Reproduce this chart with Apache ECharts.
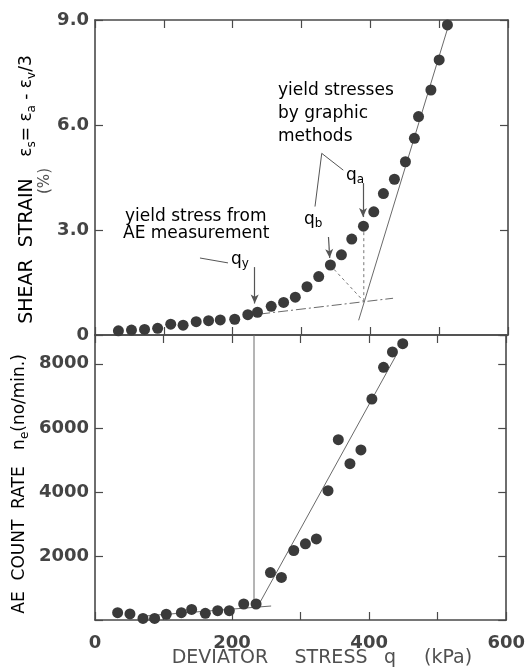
<!DOCTYPE html>
<html>
<head>
<meta charset="utf-8">
<script src="https://cdn.jsdelivr.net/npm/echarts@6/dist/echarts.min.js"></script>
<style>
  html, body { margin: 0; padding: 0; background: #fff; }
  #chart { width: 528px; height: 672px; }
</style>
</head>
<body>
<div id="chart"></div>
<script>
// top panel: shear strain (%) vs deviator stress q (kPa)
const strainQ = [34, 53, 72, 91, 110, 128, 147, 165, 182, 203, 222, 236, 256, 274, 291, 308, 325, 342, 358, 373, 390, 405, 419, 435, 451, 464, 470, 488, 500, 512];
const strainVal = [0.12, 0.14, 0.16, 0.19, 0.31, 0.28, 0.38, 0.41, 0.43, 0.45, 0.58, 0.65, 0.82, 0.93, 1.08, 1.38, 1.67, 2.0, 2.29, 2.74, 3.11, 3.52, 4.04, 4.45, 4.95, 5.62, 6.24, 7.0, 7.86, 8.86];

// bottom panel: AE count rate (no/min) vs deviator stress q (kPa)
const rateQ = [33, 51, 70, 87, 104, 126, 141, 161, 179, 196, 217, 235, 256, 272, 290, 307, 323, 340, 355, 372, 388, 404, 421, 434, 449];
const rateVal = [230, 190, 50, 50, 180, 230, 330, 210, 290, 290, 500, 500, 1480, 1330, 2170, 2380, 2530, 4040, 5630, 4880, 5310, 6900, 7890, 8370, 8630];

// fitted lines and construction lines [q, value]
const strainFitLow = [[240, 0.6], [433, 1.05]];
const strainFitSteep = [[383, 0.42], [516, 9.0]];
const dashA = [[390.5, 3.11], [390.5, 0.95]];
const dashB = [[341.4, 2.0], [391, 0.95]];
const rateFitLow = [[73, 125], [257, 437]];
const rateFitSteep = [[240, 522], [440, 8290]];
const yieldAE = [[232, 8900], [232, 600]];

// annotation arrows and leaders (top panel, data units)
const arrowsTop = [
  [[232, 1.94], [232, 0.9]],
  [[389.4, 4.34], [389.4, 3.37]],
  [[339.2, 2.8], [341, 2.2]]
];
const leadersTop = [
  [[152.5, 2.2], [193.2, 2.06]],
  [[329.4, 5.19], [360.7, 4.71]],
  [[329.4, 5.19], [319.6, 3.67]]
];

const zip = (a, b) => a.map((v, i) => [v, b[i]]);

const chart = echarts.init(document.getElementById('chart'));

const frame = '#4a4a4a';
const tickFont = { color: '#444', fontSize: 18, fontWeight: 'bold', fontFamily: 'DejaVu Sans' };
const txt = '#505050';
const font = 'DejaVu Sans';

function xAx(grid, pos, labels) {
  return {
    type: 'value', gridIndex: grid, position: pos, min: 0, max: 600, interval: 100,
    axisLine: { show: true, onZero: false, lineStyle: { color: frame, width: 1.6 } },
    axisTick: { show: true, inside: true, length: 8, lineStyle: { color: frame, width: 1.2 } },
    splitLine: { show: false },
    axisLabel: labels
      ? Object.assign({ margin: 14, formatter: v => (v % 200 === 0 ? String(v) : '') }, tickFont)
      : { show: false }
  };
}

function yAx(grid, pos, max, interval, fmt) {
  return {
    type: 'value', gridIndex: grid, position: pos, min: 0, max: max, interval: interval,
    axisLine: { show: true, onZero: false, lineStyle: { color: frame, width: 1.6 } },
    axisTick: { show: true, inside: true, length: 8, lineStyle: { color: frame, width: 1.2 } },
    splitLine: { show: false },
    axisLabel: fmt
      ? Object.assign({ margin: 6, showMaxLabel: max % interval === 0, formatter: fmt }, tickFont)
      : { show: false }
  };
}

const fitStyle = { color: '#6a6a6a', width: 1 };
function seg(data, xi, yi, style) {
  return { type: 'line', xAxisIndex: xi, yAxisIndex: yi, data: data, symbol: 'none', lineStyle: style, z: 1 };
}

const richTitle = {
  a: { fontSize: 17, fontFamily: font, color: txt, lineHeight: 21 },
  b: { fontSize: 19, fontFamily: font, color: txt, lineHeight: 21 },
  s: { fontSize: 12, fontFamily: font, color: txt, lineHeight: 11, verticalAlign: 'bottom' }
};
const richNote = {
  a: { fontSize: 17, fontFamily: font, color: txt, lineHeight: 20 },
  s: { fontSize: 12, fontFamily: font, color: txt, lineHeight: 10, verticalAlign: 'bottom' }
};

function note(x, y, text) {
  return { type: 'text', x: x, y: y, style: { text: text, rich: richNote, align: 'left', verticalAlign: 'middle' } };
}
function vtext(x, y, text) {
  return {
    type: 'text', x: x, y: y, rotation: Math.PI / 2,
    style: { text: text, rich: richTitle, align: 'center', verticalAlign: 'middle' }
  };
}
function htext(x, y, text) {
  return { type: 'text', x: x, y: y, style: { text: text, fontSize: 19, fontFamily: font, fill: txt, align: 'center', verticalAlign: 'middle' } };
}

const option = {
  animation: false,
  backgroundColor: '#fff',
  grid: [
    { left: 95, right: 20, top: 20, height: 315 },
    { left: 95, right: 20, top: 335, height: 285 }
  ],
  xAxis: [xAx(0, 'bottom', false), xAx(0, 'top', false), xAx(1, 'bottom', true), xAx(1, 'top', false)],
  yAxis: [
    yAx(0, 'left', 9, 3, v => (v === 0 ? '0' : v.toFixed(1))),
    yAx(0, 'right', 9, 3, null),
    yAx(1, 'left', 8900, 2000, v => (v === 0 ? '' : String(v))),
    yAx(1, 'right', 8900, 2000, null)
  ],
  series: [
    seg(strainFitLow, 0, 0, { color: '#6a6a6a', width: 1, type: [10, 3, 2, 3] }),
    seg(strainFitSteep, 0, 0, fitStyle),
    seg(dashA, 0, 0, { color: '#777', width: 1, type: [3, 3] }),
    seg(dashB, 0, 0, { color: '#777', width: 1, type: [3, 3] }),
    seg(rateFitLow, 2, 2, fitStyle),
    seg(rateFitSteep, 2, 2, fitStyle),
    seg(yieldAE, 2, 2, { color: '#6a6a6a', width: 1 }),
    {
      type: 'line', xAxisIndex: 0, yAxisIndex: 0, data: [], symbol: 'none',
      markLine: {
        silent: true, symbol: ['none', 'arrow'], symbolSize: [6, 9], label: { show: false },
        lineStyle: { type: 'solid', color: '#555', width: 1.2 },
        data: arrowsTop.map(p => [{ coord: p[0] }, { coord: p[1] }])
      }
    },
    {
      type: 'line', xAxisIndex: 0, yAxisIndex: 0, data: [], symbol: 'none',
      markLine: {
        silent: true, symbol: ['none', 'none'], label: { show: false },
        lineStyle: { type: 'solid', color: '#555', width: 1 },
        data: leadersTop.map(p => [{ coord: p[0] }, { coord: p[1] }])
      }
    },
    {
      type: 'scatter', xAxisIndex: 0, yAxisIndex: 0, data: zip(strainQ, strainVal),
      symbolSize: 11, itemStyle: { color: '#3a3a3a', opacity: 1 }, z: 3
    },
    {
      type: 'scatter', xAxisIndex: 2, yAxisIndex: 2, data: zip(rateQ, rateVal),
      symbolSize: 11, itemStyle: { color: '#3a3a3a', opacity: 1 }, z: 3
    }
  ],
  graphic: [
    vtext(27, 251, '{b|SHEAR  STRAIN}'),
    vtext(27, 106, '{a|ε}{s|s}{a|= ε}{s|a}{a| - ε}{s|v}{a|/3}'),
    {
      type: 'text', x: 45, y: 181, rotation: Math.PI / 2,
      style: { text: '(%)', fontSize: 15, fontFamily: font, fill: txt, align: 'center', verticalAlign: 'middle' }
    },
    vtext(20, 540, '{a|AE  COUNT  RATE}'),
    vtext(20, 402, '{a|n}{s|e}{a|(no/min.)}'),
    htext(220, 658, 'DEVIATOR'),
    htext(331, 658, 'STRESS'),
    htext(390, 658, 'q'),
    htext(448, 658, '(kPa)'),
    note(125, 217, '{a|yield stress from}'),
    note(123, 234, '{a|AE measurement}'),
    note(231, 260, '{a|q}{s|y}'),
    note(278, 91, '{a|yield stresses}'),
    note(278, 114, '{a|by graphic}'),
    note(278, 137, '{a|methods}'),
    note(346, 176, '{a|q}{s|a}'),
    note(304, 220, '{a|q}{s|b}')
  ]
};

chart.setOption(option);
</script>
</body>
</html>
